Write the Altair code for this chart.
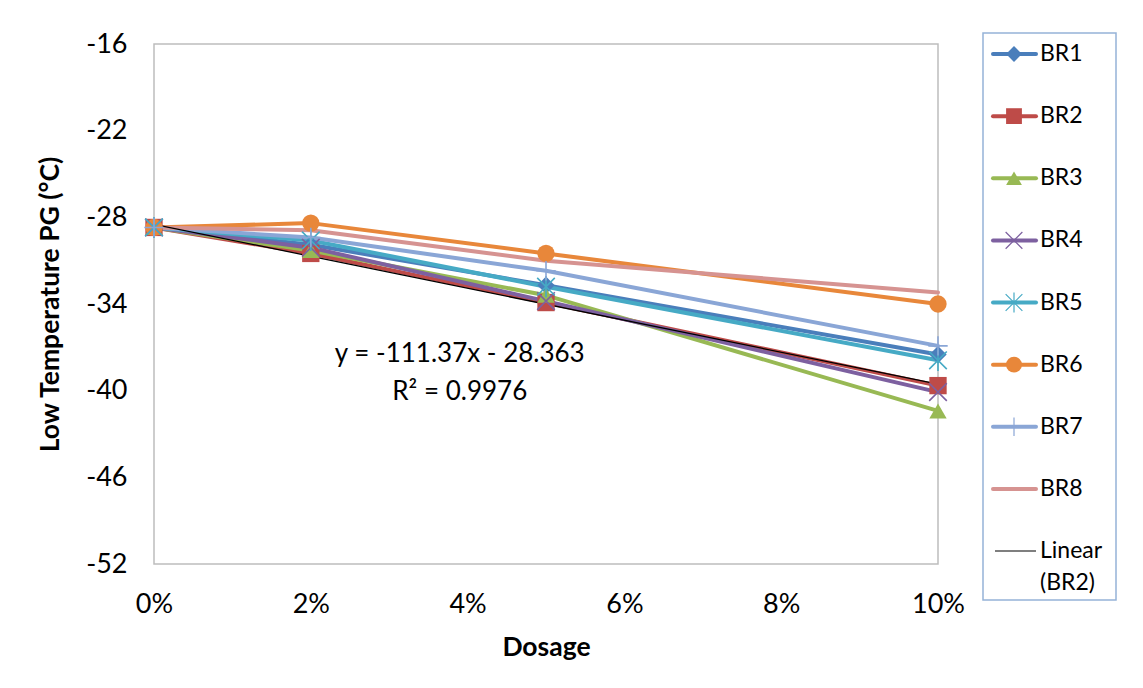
import altair as alt
import pandas as pd

# ---------------- data ----------------
series = ["BR1", "BR2", "BR3", "BR4", "BR5", "BR6", "BR7", "BR8"]
dosage = [0.0, 0.02, 0.05, 0.10]
br1 = [-28.7, -29.9, -32.7, -37.5]
br2 = [-28.7, -30.5, -33.9, -39.65]
br3 = [-28.7, -30.3, -33.4, -41.4]
br4 = [-28.7, -30.1, -33.8, -40.1]
br5 = [-28.7, -29.6, -32.8, -37.9]
br6 = [-28.7, -28.4, -30.5, -34.0]
br7 = [-28.7, -29.4, -31.7, -36.9]
br8 = [-28.7, -28.9, -31.0, -33.2]
values = [br1, br2, br3, br4, br5, br6, br7, br8]

x_ticks = [0.0, 0.02, 0.04, 0.06, 0.08, 0.10]
y_ticks = [-52, -46, -40, -34, -28, -22, -16]
equation_lines = ["y = -111.37x - 28.363", "R² = 0.9976"]
legend_keys = series + ["Linear (BR2)"]

# ---------------- styles ----------------
colors = ["#4A7EBB", "#BE4B48", "#98B954", "#7D60A0", "#46AAC5", "#E8873A", "#8AA6D6", "#D69391"]
X_PATH = "M-1,-1L1,1M-1,1L1,-1"
STAR_PATH = "M-1,-1L1,1M-1,1L1,-1M0,-1.2L0,1.2"
PLUS_PATH = "M0,-1.1L0,1.1M-1.1,0L1.1,0"
shapes = ["diamond", "square", "triangle-up", X_PATH, STAR_PATH, "circle", PLUS_PATH, "circle"]
filled_series = ["BR1", "BR2", "BR3", "BR6"]
stroked_series = ["BR4", "BR5", "BR7"]
FONT = "Lato"
EQ_X = 0.039
EQ_Y = [-37.43, -40.1]

rows = []
for s, vals in zip(series, values):
    for d, v in zip(dosage, vals):
        rows.append({"series": s, "dosage": d, "value": v})
df = pd.DataFrame(rows)

eq_df = pd.DataFrame({"text": equation_lines, "dosage": [EQ_X, EQ_X], "value": EQ_Y})

color_scale = alt.Scale(domain=series, range=colors)
shape_scale = alt.Scale(domain=series, range=shapes)

x_enc = alt.X(
    "dosage:Q",
    scale=alt.Scale(domain=[0, 0.1], nice=False, zero=False),
    axis=alt.Axis(values=x_ticks, format=".0%", title="Dosage", grid=False,
                  domain=False, ticks=False, labelPadding=27, titlePadding=17,
                  labelFlush=False, labelOverlap=False),
)
y_enc = alt.Y(
    "value:Q",
    scale=alt.Scale(domain=[-52, -16], nice=False, zero=False),
    axis=alt.Axis(values=y_ticks, title="Low Temperature PG (°C)", grid=False,
                  domain=False, ticks=False, labelPadding=27, titlePadding=21,
                  labelExpr="'' + datum.value", labelFlush=False),
)
col = alt.Color("series:N", scale=color_scale, legend=None)
shp = alt.Shape("series:N", scale=shape_scale, legend=None)

base = alt.Chart(df)
lines = base.mark_line(strokeWidth=4, strokeJoin="round", strokeCap="round").encode(
    x=x_enc, y=y_enc, color=col, order="dosage:Q"
)
pts_filled = base.transform_filter(
    alt.FieldOneOfPredicate(field="series", oneOf=filled_series)
).mark_point(filled=True, size=300, opacity=1).encode(x=x_enc, y=y_enc, color=col, shape=shp)
pts_stroked = base.transform_filter(
    alt.FieldOneOfPredicate(field="series", oneOf=stroked_series)
).mark_point(filled=False, size=310, strokeWidth=1.6, opacity=1).encode(
    x=x_enc, y=y_enc, color=col, shape=shp
)
trend = base.transform_filter(alt.datum.series == "BR2").transform_regression(
    "dosage", "value", method="linear", extent=[0, 0.1]
).mark_line(color="black", strokeWidth=1.3).encode(x=x_enc, y=y_enc)
eq_text = alt.Chart(eq_df).mark_text(font=FONT, fontSize=26, color="black", align="center", baseline="middle").encode(
    x=alt.X("dosage:Q"), y=alt.Y("value:Q"), text="text:N"
)

main = alt.layer(lines, trend, pts_filled, pts_stroked, eq_text).properties(
    width=784, height=520,
    view=alt.ViewBackground(stroke="#BDBDBD", strokeWidth=1.5),
)

# ---------------- legend panel ----------------
leg_df = pd.DataFrame({"key": series, "series": series, "label": series})
lin_df = pd.DataFrame({"key": ["Linear (BR2)"], "l1": ["Linear"], "l2": ["(BR2)"]})
box_df = pd.DataFrame({"k": [0]})
leg_y = alt.Y("key:N", scale=alt.Scale(type="point", domain=legend_keys, padding=0.185, align=0.435), axis=None)

box = alt.Chart(box_df).mark_rect(fill="white", stroke="#95B3D7", strokeWidth=1.5).encode(
    x=alt.value(0), x2=alt.value(133), y=alt.value(-11), y2=alt.value(556)
)
lb = alt.Chart(leg_df)
leg_lines = lb.mark_rule(strokeWidth=4, strokeCap="round").encode(
    x=alt.value(10), x2=alt.value(53), y=leg_y, color=col
)
leg_f = lb.transform_filter(
    alt.FieldOneOfPredicate(field="series", oneOf=filled_series)
).mark_point(filled=True, size=250, opacity=1).encode(x=alt.value(31), y=leg_y, color=col, shape=shp)
leg_s = lb.transform_filter(
    alt.FieldOneOfPredicate(field="series", oneOf=stroked_series)
).mark_point(filled=False, size=280, strokeWidth=1.2, opacity=1).encode(x=alt.value(31), y=leg_y, color=col, shape=shp)
leg_txt = lb.mark_text(font=FONT, fontSize=23, align="left", baseline="middle", color="black").encode(
    x=alt.value(57), y=leg_y, text="label:N"
)
lin_line = alt.Chart(lin_df).mark_rule(strokeWidth=1.2, color="black").encode(
    x=alt.value(12), x2=alt.value(53), y=leg_y
)
lin_t1 = alt.Chart(lin_df).mark_text(font=FONT, fontSize=23, align="left", baseline="middle", color="black").encode(
    x=alt.value(57), y=leg_y, text="l1:N"
)
lin_t2 = alt.Chart(lin_df).mark_text(font=FONT, fontSize=23, align="left", baseline="middle", color="black", dy=32).encode(
    x=alt.value(57), y=leg_y, text="l2:N"
)
legend = alt.layer(box, leg_lines, leg_f, leg_s, leg_txt, lin_line, lin_t1, lin_t2).properties(
    width=133, height=520,
    view=alt.ViewBackground(stroke=None),
)

chart = alt.hconcat(main, legend, spacing=16).properties(
    padding={"left": 28, "top": 21, "right": 5, "bottom": 5}
).configure_axis(
    labelFont=FONT, titleFont=FONT, labelFontSize=27, titleFontSize=26.5,
    titleFontWeight="bold", labelColor="black", titleColor="black",
).configure_view(stroke=None)

chart.save("out.html", embed_options={"renderer": "svg", "actions": False})
